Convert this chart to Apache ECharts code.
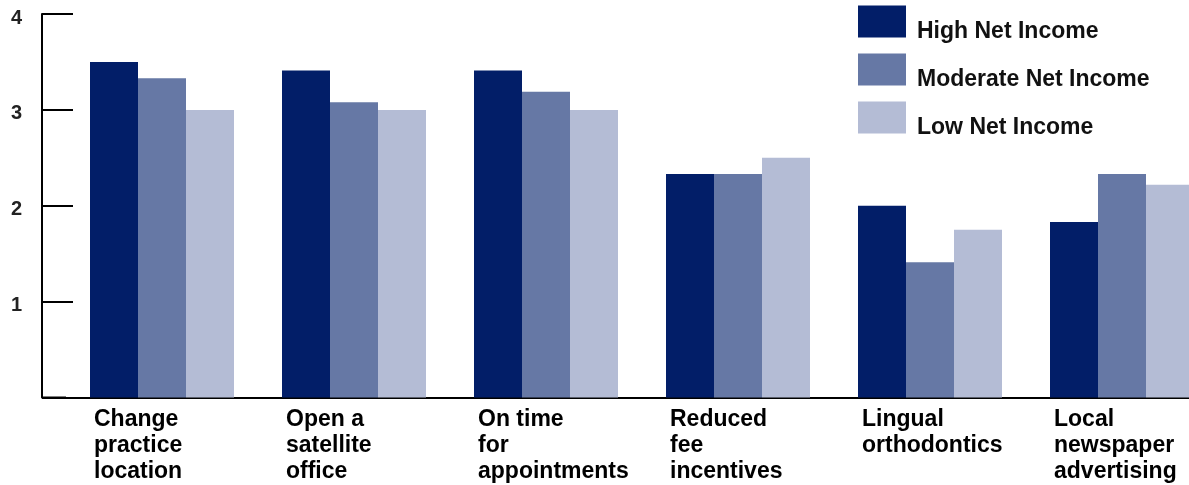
<!DOCTYPE html>
<html>
<head>
<meta charset="utf-8">
<script src="https://cdn.jsdelivr.net/npm/echarts@6/dist/echarts.min.js"></script>
<style>
    html, body { margin: 0; padding: 0; background: #fff; }
    #main { width: 1189px; height: 485px; }
</style>
</head>
<body>
<div id="main"></div>
<script>
// 数据
var categories = [
    'Change\npractice\nlocation',
    'Open a\nsatellite\noffice',
    'On time\nfor\nappointments',
    'Reduced\nfee\nincentives',
    'Lingual\northodontics',
    'Local\nnewspaper\nadvertising'
];
var seriesNames = ['High Net Income', 'Moderate Net Income', 'Low Net Income'];
var highValues = [3.5, 3.41, 3.41, 2.33, 2.0, 1.83];
var moderateValues = [3.33, 3.08, 3.19, 2.33, 1.41, 2.33];
var lowValues = [3.0, 3.0, 3.0, 2.5, 1.75, 2.22];
var yTicks = [0, 1, 2, 3, 4];

var colors = ['#021e68', '#6678a5', '#b4bcd5'];
var font = "'Liberation Sans', Arial, sans-serif";
var gridLeft = 66;
var yOffset = 24;

var chart = echarts.init(document.getElementById('main'), null, { renderer: 'canvas' });

function barSeries(name, values, color) {
    return {
        name: name,
        type: 'bar',
        data: values,
        barWidth: 48,
        barGap: '0%',
        itemStyle: { color: color },
        emphasis: { disabled: true }
    };
}

var option = {
    animation: false,
    backgroundColor: '#fff',
    legend: {
        data: seriesNames,
        orient: 'vertical',
        left: 858,
        top: 0,
        padding: 0,
        itemWidth: 48,
        itemHeight: 32,
        itemGap: 5,
        icon: 'rect',
        selectedMode: false,
        formatter: function (name) { return '{t|' + name + '}'; },
        textStyle: {
            rich: {
                t: {
                    fontFamily: font,
                    fontSize: 23,
                    fontWeight: 'bold',
                    color: '#111',
                    lineHeight: 24,
                    padding: [20, 0, 0, 6]
                }
            }
        }
    },
    grid: {
        left: gridLeft,
        top: 14,
        width: 1152,
        bottom: 87.5,
        outerBoundsMode: 'none'
    },
    xAxis: {
        type: 'category',
        data: categories,
        axisTick: { show: false },
        axisLine: { lineStyle: { color: '#000', width: 2 } },
        axisLabel: {
            interval: 0,
            margin: 9,
            formatter: function (value) {
                return value.split('\n').map(function (s) { return '{t|' + s + '}'; }).join('\n');
            },
            rich: {
                t: {
                    width: 136,
                    align: 'left',
                    fontFamily: font,
                    fontSize: 23,
                    fontWeight: 'bold',
                    lineHeight: 26,
                    color: '#000'
                }
            }
        }
    },
    yAxis: {
        type: 'value',
        min: yTicks[0],
        max: yTicks[yTicks.length - 1],
        interval: 1,
        offset: yOffset,
        splitLine: { show: false },
        axisLine: { show: true, lineStyle: { color: '#000', width: 2 } },
        axisTick: { show: true, inside: true, length: 31, lineStyle: { color: '#000', width: 2 } },
        axisLabel: {
            margin: 20,
            formatter: function (v) { return v === 0 ? '' : '{n|' + v + '}'; },
            rich: {
                n: {
                    fontFamily: font,
                    fontSize: 20,
                    fontWeight: 'bold',
                    color: '#222',
                    lineHeight: 22,
                    padding: [8, 0, 0, 0]
                }
            }
        }
    },
    series: [
        barSeries(seriesNames[0], highValues, colors[0]),
        barSeries(seriesNames[1], moderateValues, colors[1]),
        barSeries(seriesNames[2], lowValues, colors[2])
    ]
};
chart.setOption(option);

// 基线从y轴延伸到网格左边
var baseY = chart.convertToPixel({ yAxisIndex: 0 }, 0);
chart.setOption({
    graphic: [{
        type: 'line',
        shape: { x1: gridLeft - yOffset, y1: baseY, x2: gridLeft, y2: baseY },
        style: { stroke: '#000', lineWidth: 2 }
    }]
});
</script>
</body>
</html>
